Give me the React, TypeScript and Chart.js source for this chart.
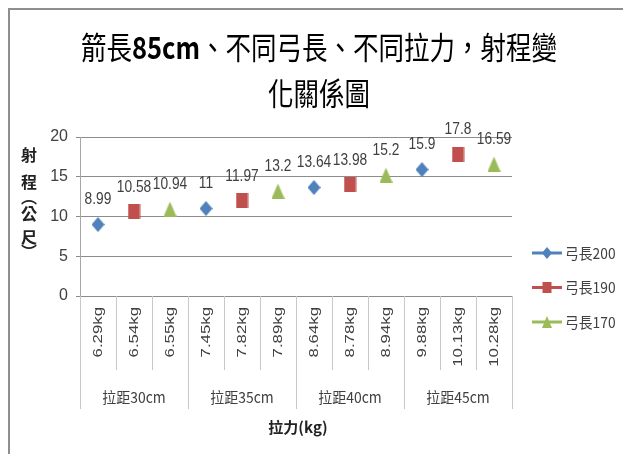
import React, { useEffect, useRef } from "react";
import { Chart, registerables } from "chart.js";

Chart.register(...registerables);

// ---- data ----
const titleLine1Pre = "箭長";
const titleLine1Bold = "85cm";
const titleLine1Post = "、不同弓長、不同拉力，射程變";
const titleLine2 = "化關係圖";
const yTitleChars = ["射", "程", "︵", "公", "尺", "︶"];
const xTitle = "拉力(kg)";

const categories = [
  "6.29kg", "6.54kg", "6.55kg",
  "7.45kg", "7.82kg", "7.89kg",
  "8.64kg", "8.78kg", "8.94kg",
  "9.88kg", "10.13kg", "10.28kg",
];
const groups = ["拉距30cm", "拉距35cm", "拉距40cm", "拉距45cm"];

const seriesNames = ["弓長200", "弓長190", "弓長170"];
const bow200 = [8.99, null, null, 11, null, null, 13.64, null, null, 15.9, null, null];
const bow190 = [null, 10.58, null, null, 11.97, null, null, 13.98, null, null, 17.8, null];
const bow170 = [null, null, 10.94, null, null, 13.2, null, null, 15.2, null, null, 16.59];

const yMin = 0;
const yMax = 20;
const yStep = 5;

// ---- style ----
const colors = ["#4F81BD", "#C0504D", "#9BBB59"];
const TEXT = "#404040";
const GRID = "#8C8C8C";
const LIGHT = "#C8C8C8";
const CJK = "'Noto Sans CJK TC', 'Noto Sans', sans-serif";
const NUM = "'Liberation Sans', 'Noto Sans', sans-serif";

function makeMarker(kind: number, scale = 1): HTMLCanvasElement {
  const w = Math.round(13 * scale);
  const h = Math.round(15 * scale);
  const c = document.createElement("canvas");
  c.width = w;
  c.height = h;
  const g = c.getContext("2d")!;
  g.fillStyle = colors[kind];
  g.beginPath();
  if (kind === 0) {
    g.moveTo(w / 2, 0);
    g.lineTo(w, h / 2);
    g.lineTo(w / 2, h);
    g.lineTo(0, h / 2);
  } else if (kind === 1) {
    g.rect(0.5, 0, w - 1, h);
  } else {
    g.moveTo(w / 2, 0);
    g.lineTo(w, h);
    g.lineTo(0, h);
  }
  g.closePath();
  g.fill();
  return c;
}

export default function App() {
  const ref = useRef<HTMLCanvasElement | null>(null);

  useEffect(() => {
    const canvas = ref.current;
    if (!canvas) return;
    const markers = [makeMarker(0), makeMarker(1), makeMarker(2)];
    const legendMarkers = [makeMarker(0, 0.8), makeMarker(1, 0.75), makeMarker(2, 0.8)];
    const seriesData = [bow200, bow190, bow170];

    const decor = {
      id: "decor",
      afterDatasetsDraw(chart: any) {
        const ctx = chart.ctx as CanvasRenderingContext2D;
        // data labels
        ctx.save();
        ctx.fillStyle = TEXT;
        ctx.textAlign = "center";
        ctx.textBaseline = "middle";
        ctx.font = `16px ${NUM}`;
        chart.data.datasets.forEach((ds: any, di: number) => {
          const meta = chart.getDatasetMeta(di);
          ds.data.forEach((v: number | null, i: number) => {
            if (v === null || v === undefined) return;
            const el = meta.data[i];
            ctx.save();
            ctx.translate(el.x, el.y - 25);
            ctx.scale(0.86, 1.08);
            ctx.fillText(String(v), 0, 0);
            ctx.restore();
          });
        });
        ctx.restore();
      },
      afterDraw(chart: any) {
        const ctx = chart.ctx as CanvasRenderingContext2D;
        const area = chart.chartArea;
        const xs = chart.scales.x;
        ctx.save();

        // frame
        ctx.strokeStyle = "#8E8E8E";
        ctx.lineWidth = 2;
        ctx.beginPath();
        ctx.moveTo(9, 460);
        ctx.lineTo(9, 9);
        ctx.lineTo(630, 9);
        ctx.stroke();

        // title
        ctx.fillStyle = "#000";
        ctx.textBaseline = "middle";
        ctx.textAlign = "left";
        const fs = 31;
        const reg = `${fs}px ${CJK}`;
        const bold = `bold ${fs}px ${CJK}`;
        ctx.font = reg;
        const w1 = ctx.measureText(titleLine1Pre).width;
        const w3 = ctx.measureText(titleLine1Post).width;
        ctx.font = bold;
        const w2 = ctx.measureText(titleLine1Bold).width;
        const total = w1 + w2 + w3;
        const target = 476;
        const s = target / total;
        const cx = 319;
        ctx.save();
        ctx.translate(cx - target / 2, 47);
        ctx.scale(s, 1);
        ctx.font = reg;
        ctx.fillText(titleLine1Pre, 0, 0);
        ctx.font = bold;
        ctx.fillText(titleLine1Bold, w1, 0);
        ctx.font = reg;
        ctx.fillText(titleLine1Post, w1 + w2, 0);
        ctx.restore();
        ctx.save();
        ctx.font = reg;
        const wl2 = ctx.measureText(titleLine2).width;
        ctx.translate(cx - (wl2 * s) / 2, 93);
        ctx.scale(s, 1);
        ctx.fillText(titleLine2, 0, 0);
        ctx.restore();

        // y title (stacked)
        ctx.fillStyle = "#222";
        ctx.textAlign = "center";
        ctx.font = `bold 16px ${CJK}`;
        const yPos = [155, 182, 197, 214, 237, 252];
        yTitleChars.forEach((ch, i) => {
          ctx.fillText(ch, 29, yPos[i]);
        });

        // x dividers & category labels
        const n = categories.length;
        const cw = (area.right - area.left) / n;
        ctx.strokeStyle = LIGHT;
        ctx.lineWidth = 1;
        for (let i = 0; i <= n; i++) {
          const x = Math.round(area.left + i * cw) + 0.5;
          ctx.beginPath();
          ctx.moveTo(x, area.bottom);
          ctx.lineTo(x, i % 3 === 0 ? 409 : 370);
          ctx.stroke();
        }
        ctx.fillStyle = TEXT;
        ctx.font = `12px ${NUM}`;
        ctx.textAlign = "right";
        ctx.textBaseline = "middle";
        categories.forEach((lab, i) => {
          const x = xs.getPixelForValue(i) + 1;
          ctx.save();
          ctx.translate(x, 307);
          ctx.rotate(-Math.PI / 2);
          ctx.scale(1.4, 1.05);
          ctx.fillText(lab, 0, 0);
          ctx.restore();
        });

        // group labels
        ctx.textAlign = "center";
        ctx.font = `15px ${CJK}`;
        groups.forEach((g, gi) => {
          const x = area.left + (gi * 3 + 1.5) * cw;
          ctx.save();
          ctx.translate(x, 397);
          ctx.scale(0.93, 1);
          ctx.fillText(g, 0, 0);
          ctx.restore();
        });

        // x title
        ctx.fillStyle = "#222";
        ctx.font = `bold 15px ${CJK}`;
        ctx.fillText(xTitle, (area.left + area.right) / 2 + 2, 427);

        // legend
        seriesNames.forEach((name, i) => {
          const y = 253 + i * 34.5;
          ctx.strokeStyle = colors[i];
          ctx.lineWidth = 3;
          ctx.beginPath();
          ctx.moveTo(532, y);
          ctx.lineTo(562, y);
          ctx.stroke();
          const m = legendMarkers[i];
          ctx.drawImage(m, 547 - m.width / 2, y - m.height / 2);
          ctx.fillStyle = TEXT;
          ctx.textAlign = "left";
          ctx.font = `15px ${CJK}`;
          ctx.save();
          ctx.translate(565, y);
          ctx.scale(0.92, 1);
          ctx.fillText(name, 0, 0);
          ctx.restore();
        });

        ctx.restore();
      },
    };

    const chart = new Chart(canvas, {
      type: "line",
      data: {
        labels: categories,
        datasets: seriesData.map((d, i) => ({
          label: seriesNames[i],
          data: d,
          showLine: false,
          pointStyle: markers[i],
          pointRadius: 7,
          pointHoverRadius: 7,
          borderColor: colors[i],
          backgroundColor: colors[i],
        })),
      },
      options: {
        animation: false,
        responsive: false,
        events: [],
        layout: { padding: { top: 137, left: 0, right: 111, bottom: 0 } },
        plugins: {
          legend: { display: false },
          tooltip: { enabled: false },
          title: { display: false },
        },
        scales: {
          x: {
            type: "category",
            offset: true,
            grid: { display: false },
            ticks: { display: false },
            border: { display: true, color: GRID, width: 1 },
            afterFit(scale: any) {
              scale.height = 158;
            },
          },
          y: {
            min: yMin,
            max: yMax,
            ticks: {
              stepSize: yStep,
              color: TEXT,
              padding: 8,
              font: { family: NUM, size: 16 },
            },
            grid: { color: GRID, lineWidth: 1, tickLength: 4, drawTicks: true },
            border: { display: true, color: "#A6A6A6", width: 1 },
            afterFit(scale: any) {
              scale.width = 80;
            },
          },
        },
      },
      plugins: [decor],
    });

    return () => chart.destroy();
  }, []);

  return (
    <div style={{ position: "fixed", left: 0, top: 0, width: 623, height: 454, background: "#fff" }}>
      <canvas ref={ref} width={623} height={454} style={{ display: "block", width: 623, height: 454 }} />
    </div>
  );
}
